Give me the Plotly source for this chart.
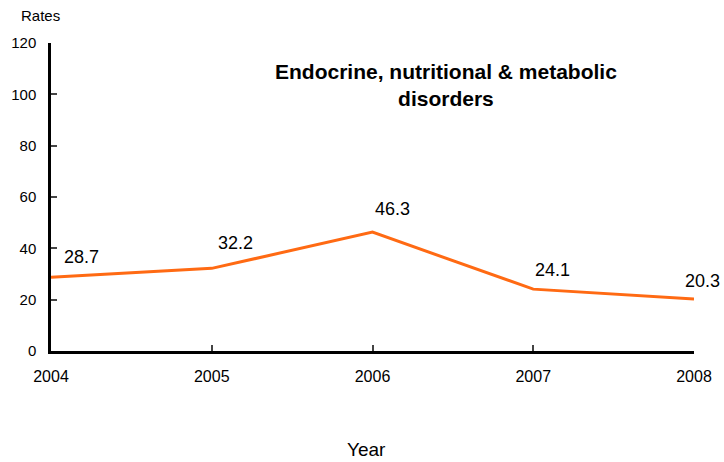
import plotly.graph_objects as go

years = [2004, 2005, 2006, 2007, 2008]
rates = [28.7, 32.2, 46.3, 24.1, 20.3]
y_ticks = [0, 20, 40, 60, 80, 100, 120]
title_lines = ["Endocrine, nutritional & metabolic", "disorders"]

# label offsets in pixels (style only)
label_dx = [30, 24, 20, 19, 8]
label_dy = [20, 25, 23, 19, 18]

FONT = "Arial, Liberation Sans, sans-serif"

fig = go.Figure()
fig.add_trace(go.Scatter(x=years, y=rates, mode="lines",
                         line=dict(color="#FF6A13", width=3),
                         hoverinfo="skip", showlegend=False, cliponaxis=False))

for x, y, dx, dy in zip(years, rates, label_dx, label_dy):
    fig.add_annotation(x=x, y=y, text=f"{y:.1f}", showarrow=False,
                       xanchor="center", yanchor="middle",
                       xshift=dx, yshift=dy,
                       font=dict(family=FONT, size=18, color="#000"))

fig.add_annotation(x=0.6143, y=0.8636, xref="paper", yref="paper",
                   text="<br>".join(f"<b>{t}</b>" for t in title_lines),
                   showarrow=False, xanchor="center", yanchor="middle",
                   font=dict(family=FONT, size=21, color="#000"))
fig.add_annotation(x=-0.0171, y=1.0909, xref="paper", yref="paper", text="Rates",
                   showarrow=False, xanchor="center", yanchor="middle",
                   font=dict(family=FONT, size=15, color="#000"))
fig.add_annotation(x=0.4914, y=-0.3214, xref="paper", yref="paper", text="Year",
                   showarrow=False, xanchor="center", yanchor="middle",
                   font=dict(family=FONT, size=19, color="#000"))

fig.update_layout(
    width=724, height=462,
    margin=dict(l=51, r=30, t=43, b=111, autoexpand=False),
    plot_bgcolor="white", paper_bgcolor="white",
    font=dict(family=FONT, size=16, color="#000"),
    xaxis=dict(range=[2004, 2008], tickvals=years, ticks="inside", ticklen=6, tickwidth=2,
               showline=True, linecolor="#000", linewidth=2.5, showgrid=False, zeroline=False,
               ticklabelstandoff=9, tickfont=dict(size=16), automargin=False),
    yaxis=dict(range=[0, 120], tickvals=y_ticks, ticks="inside", ticklen=6, tickwidth=2,
               showline=True, linecolor="#000", linewidth=2.5, showgrid=False, zeroline=False,
               ticklabelstandoff=9, tickfont=dict(size=15), automargin=False),
)

fig.write_html("out.html", config={"displayModeBar": False},
               post_script="document.body.style.margin='0';document.body.style.overflow='hidden';")
